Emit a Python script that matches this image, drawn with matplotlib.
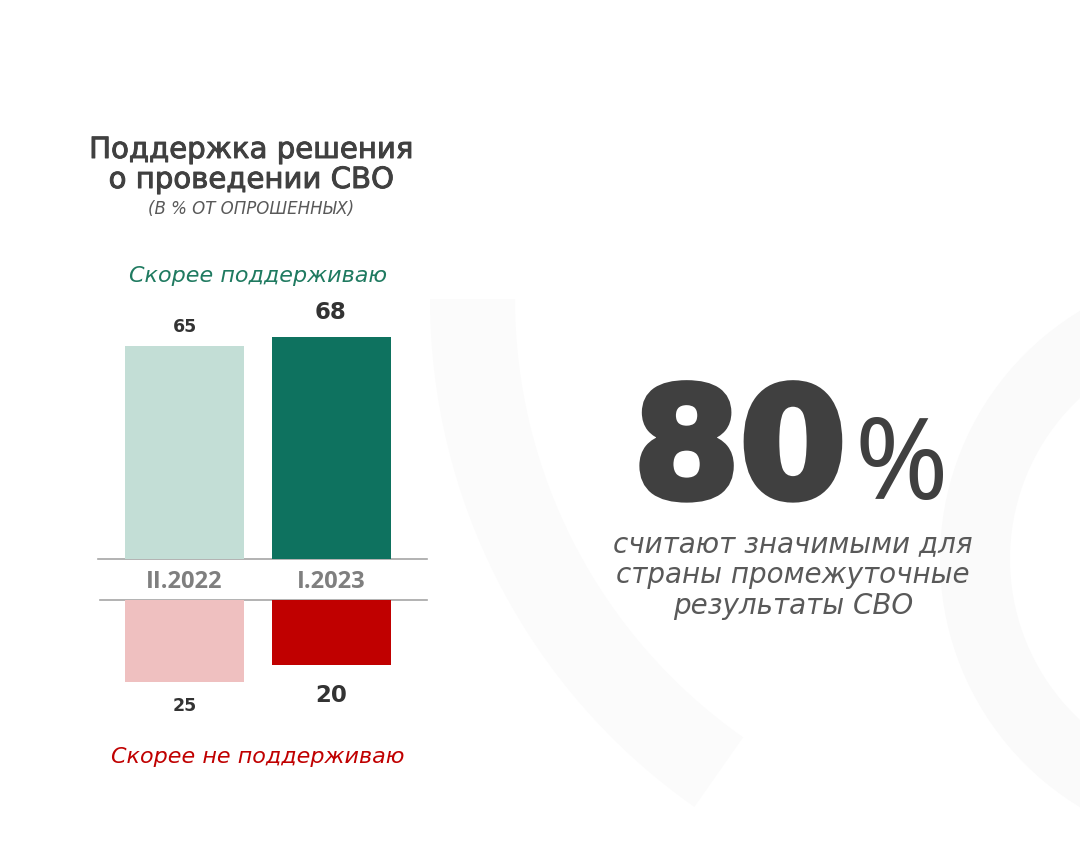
import matplotlib
matplotlib.use("Agg")
import matplotlib.pyplot as plt
import matplotlib.patheffects as pe
from matplotlib.patches import Wedge
import numpy as np

# ---- data ----
periods = ["II.2022", "I.2023"]
support = [65, 68]
oppose = [25, 20]
support_colors = ["#c3ded6", "#0e725f"]
oppose_colors = ["#efc0c0", "#c00000"]
title_lines = ["Поддержка решения", "о проведении СВО"]
subtitle = "(В % ОТ ОПРОШЕННЫХ)"
support_label = "Скорее поддерживаю"
oppose_label = "Скорее не поддерживаю"
big_value = "80"
big_text = ["считают значимыми для", "страны промежуточные", "результаты СВО"]

W, H = 1080, 854
fig = plt.figure(figsize=(W / 100, H / 100), dpi=100)
fig.patch.set_facecolor("white")

bg = fig.add_axes([0, 0, 1, 1])
bg.set_xlim(0, W)
bg.set_ylim(H, 0)
bg.axis("off")

# faint watermark shapes
bg.add_patch(Wedge((1230, 560), 290, 100, 260, width=70, facecolor="#fafafa", edgecolor="none", zorder=0))
bg.add_patch(Wedge((1050, 300), 620, 125, 180, width=85, facecolor="#fbfbfb", edgecolor="none", zorder=0))

# ---- bar axes ----
px_per_unit = 3.27
x_left_px, x_right_px = 100, 430
c0, c1 = 184.5, 331.0
step = c1 - c0
xlim = ((x_left_px - c0) / step, (x_right_px - c0) / step)
bar_w = 119 / step

top_base, top_top = 560, 250
ax_t = fig.add_axes([x_left_px / W, (H - top_base) / H, (x_right_px - x_left_px) / W, (top_base - top_top) / H])
ax_t.set_xlim(*xlim)
ax_t.set_ylim(0, (top_base - top_top) / px_per_unit)
ax_t.axis("off")
ax_t.patch.set_alpha(0)

bot_base, bot_bottom = 601, 790
ax_b = fig.add_axes([x_left_px / W, (H - bot_bottom) / H, (x_right_px - x_left_px) / W, (bot_bottom - bot_base) / H])
ax_b.set_xlim(*xlim)
ax_b.set_ylim((bot_bottom - bot_base) / px_per_unit, 0)
ax_b.axis("off")
ax_b.patch.set_alpha(0)

xs = np.arange(len(periods))
ax_t.bar(xs, support, width=bar_w, color=support_colors, zorder=2)
ax_b.bar(xs, oppose, width=bar_w, color=oppose_colors, zorder=2)

sizes = [12.5, 16.5]
top_off = [15, 18]
bot_off = [-17, -21]
for i in range(len(periods)):
    ax_t.annotate(str(support[i]), (xs[i], support[i]), xytext=(0, top_off[i]), textcoords="offset points",
                  ha="center", va="center", fontsize=sizes[i], fontweight="bold", color="#333333",
                  family="DejaVu Sans")
    ax_b.annotate(str(oppose[i]), (xs[i], oppose[i]), xytext=(0, bot_off[i]), textcoords="offset points",
                  ha="center", va="center", fontsize=sizes[i], fontweight="bold", color="#333333",
                  family="DejaVu Sans")

bg.plot([98, 427], [560, 560], color="#a6a6a6", lw=1.2, zorder=1)
bg.plot([100, 427], [601, 601], color="#a6a6a6", lw=1.2, zorder=1)

for i, p in enumerate(periods):
    bg.text([c0, c1][i], 582, p, ha="center", va="center", fontsize=17, fontweight="bold",
            color="#7f7f7f", family="Open Sans")

thick = [pe.withStroke(linewidth=0.7, foreground="#404040")]
bg.text(251, 151, title_lines[0], ha="center", va="center", fontsize=21, color="#404040",
        family="DejaVu Sans", path_effects=thick)
bg.text(251, 181, title_lines[1], ha="center", va="center", fontsize=21, color="#404040",
        family="DejaVu Sans", path_effects=thick)
bg.text(251, 209, subtitle, ha="center", va="center", fontsize=12, color="#595959",
        family="DejaVu Sans", style="italic")

bg.text(258, 276, support_label, ha="center", va="center", fontsize=16, color="#1f7a60",
        family="DejaVu Sans", style="italic")
bg.text(258, 757, oppose_label, ha="center", va="center", fontsize=16, color="#c00000",
        family="DejaVu Sans", style="italic")

heavy = [pe.withStroke(linewidth=5, foreground="#404040")]
bg.text(846, 498, big_value, ha="right", va="baseline", fontsize=110, color="#404040",
        family="DejaVu Sans", fontweight="bold", path_effects=heavy)
bg.text(854, 499, "%", ha="left", va="baseline", fontsize=81, color="#404040",
        family="Noto Sans")
for k, line in enumerate(big_text):
    bg.text(793, 544 + 31 * k, line, ha="center", va="center", fontsize=20, color="#595959",
            family="DejaVu Sans", style="italic")

fig.savefig("out.png", dpi=100, facecolor="white")
